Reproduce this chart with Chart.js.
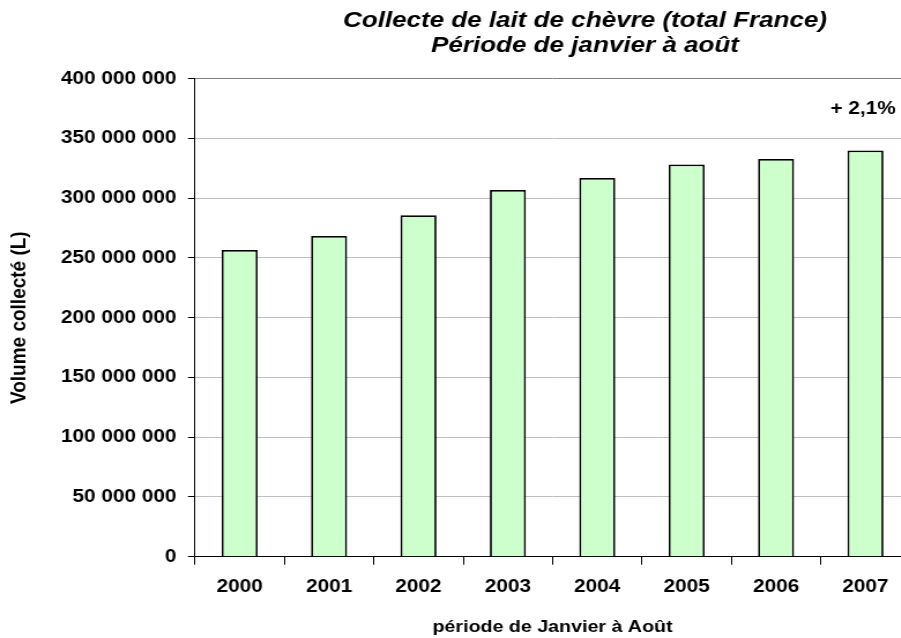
<!DOCTYPE html>
<html lang="fr">
<head>
<meta charset="utf-8">
<title>Collecte de lait de chèvre</title>
<script src="https://cdn.jsdelivr.net/npm/chart.js@4.4.1/dist/chart.umd.min.js"></script>
<style>
    html, body { margin: 0; padding: 0; background: #fff; overflow: hidden; }
    #wrap { width: 901px; height: 638px; overflow: hidden; position: relative; }
</style>
</head>
<body>
<div id="wrap">
    <!-- the reference is slightly stretched horizontally, so the canvas is too -->
    <canvas id="chart" width="1013" height="638" style="width:1170px;height:638px;display:block"></canvas>
</div>
<script>
const years = ['2000', '2001', '2002', '2003', '2004', '2005', '2006', '2007'];
const volumes = [256700000, 268400000, 285700000, 306900000, 316900000, 328300000, 332800000, 340000000];
const titleLines = ['Collecte de lait de chèvre (total France)', 'Période de janvier à août'];
const yTitle = 'Volume collecté (L)';
const xTitle = 'période de Janvier à Août';
const lastGrowth = '+ 2,1%';

const FONT = "'Liberation Sans', Arial, sans-serif";

function formatVolume(v) {
    return String(v).replace(/\B(?=(\d{3})+(?!\d))/g, ' ');
}

// chart title: in the original it sits right of the plot centre, so it is drawn by hand
const chartTitle = {
    id: 'chartTitle',
    afterDraw(chart) {
        const ctx = chart.ctx;
        ctx.save();
        ctx.font = 'italic bold 22.5px ' + FONT;
        ctx.fillStyle = '#000';
        ctx.textAlign = 'center';
        ctx.textBaseline = 'middle';
        titleLines.forEach((line, i) => ctx.fillText(line, chart.width / 2, 20.5 + i * 25));
        ctx.restore();
    }
};

// label above the last bar
const growthLabel = {
    id: 'growthLabel',
    afterDatasetsDraw(chart) {
        const bar = chart.getDatasetMeta(0).data[years.length - 1];
        if (!bar) return;
        const ctx = chart.ctx;
        ctx.save();
        ctx.font = 'bold 18px ' + FONT;
        ctx.fillStyle = '#000';
        ctx.textAlign = 'center';
        ctx.textBaseline = 'middle';
        ctx.fillText(lastGrowth, bar.x - 2, 109);
        ctx.restore();
    }
};

new Chart(document.getElementById('chart'), {
    type: 'bar',
    data: {
        labels: years,
        datasets: [{
            data: volumes,
            backgroundColor: '#CCFFCC',
            borderColor: '#000',
            borderWidth: 1.8,
            categoryPercentage: 1,
            barPercentage: 0.403
        }]
    },
    options: {
        responsive: false,
        animation: false,
        layout: { padding: { left: 0, right: 225, top: 78.7, bottom: 0 } },
        plugins: {
            legend: { display: false },
            tooltip: { enabled: false },
            title: { display: false }
        },
        scales: {
            x: {
                grid: {
                    display: true,
                    drawOnChartArea: false,
                    tickLength: 8,
                    tickColor: '#000'
                },
                border: { color: '#000', width: 1 },
                ticks: {
                    color: '#000',
                    padding: 12,
                    maxRotation: 0,
                    font: { family: FONT, size: 18, weight: 'bold' }
                },
                title: {
                    display: true,
                    text: xTitle,
                    color: '#000',
                    font: { family: FONT, size: 17, weight: 'bold' },
                    padding: { top: 0, bottom: 0 }
                },
                afterFit(scale) { scale.height = 81.3; }
            },
            y: {
                min: 0,
                max: 400000000,
                grid: {
                    color: ctx => ctx.tick && ctx.tick.value === 400000000 ? '#808080'
                        : (ctx.tick && ctx.tick.value === 0 ? '#000' : '#C0C0C0'),
                    tickLength: 6,
                    tickColor: '#000'
                },
                border: { color: '#000', width: 1 },
                ticks: {
                    stepSize: 50000000,
                    color: '#000',
                    padding: 10,
                    font: { family: FONT, size: 18, weight: 'bold' },
                    callback: v => formatVolume(v)
                },
                title: {
                    display: true,
                    text: yTitle,
                    color: '#000',
                    font: { family: FONT, size: 19, weight: 'bold' },
                    padding: { top: 5, bottom: 0 }
                },
                afterFit(scale) { scale.width = 168.8; }
            }
        }
    },
    plugins: [chartTitle, growthLabel]
});
</script>
</body>
</html>
